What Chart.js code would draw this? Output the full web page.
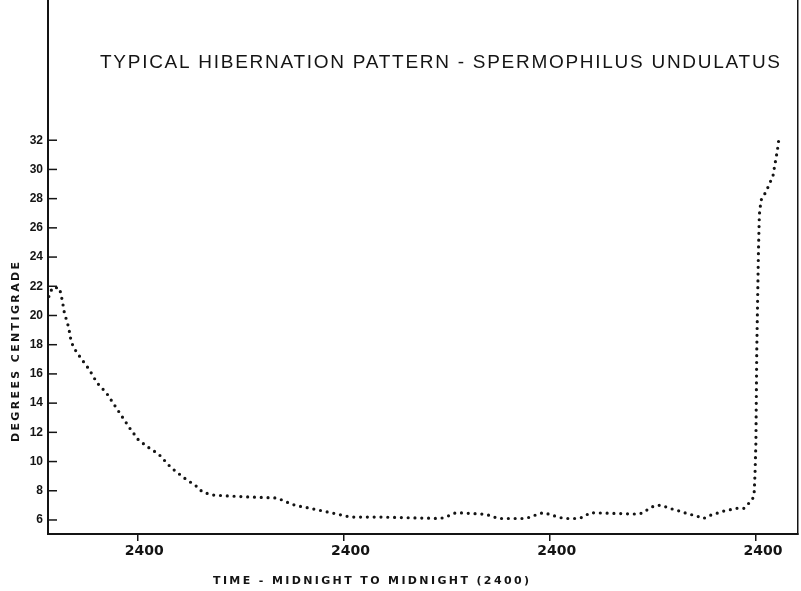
<!DOCTYPE html>
<html>
<head>
<meta charset="utf-8">
<script src="https://cdn.jsdelivr.net/npm/chart.js@4"></script>
<style>
  html, body { margin: 0; padding: 0; background: #fff; }
</style>
</head>
<body>
<canvas id="myChart" width="801" height="591"></canvas>
<script>
// time in hours from the first midnight, body temperature in degrees C
const hours = [-10.3, -9.9, -9.1, -8.9, -8.7, -8.5, -8.0, -7.7, -7.3, -6.6, -5.6, -4.7, -3.6, -2.7, -1.8, -0.9,
  0.1, 1.2, 2.5, 3.9, 5.4, 6.9, 7.6, 8.9, 12.0, 16.3, 17.5, 18.4, 20.1, 21.7, 23.3, 24.8, 28.3, 35.3, 36.3, 37.1,
  40.3, 41.1, 42.0, 45.0, 45.8, 46.6, 47.3, 49.0, 49.7, 51.3, 51.9, 52.7, 58.3, 58.9, 59.6, 60.3, 61.1, 61.9, 62.6,
  64.2, 65.0, 65.9, 66.6, 68.2, 69.8, 70.6, 71.1, 71.6, 71.8, 71.9, 72.0, 72.1, 72.3, 72.4, 72.6, 73.1, 73.5, 74.0,
  74.2, 74.5, 74.7];
const tempC = [21.3, 21.9, 21.9, 21.5, 20.9, 20.2, 19.2, 18.2, 17.7, 17.1, 16.3, 15.4, 14.7, 13.9, 13.1, 12.3,
  11.5, 11.0, 10.5, 9.6, 8.9, 8.3, 7.9, 7.7, 7.6, 7.5, 7.2, 7.0, 6.8, 6.6, 6.4, 6.2, 6.2, 6.1, 6.3, 6.5,
  6.4, 6.3, 6.1, 6.1, 6.2, 6.4, 6.5, 6.2, 6.1, 6.1, 6.2, 6.5, 6.4, 6.5, 6.8, 7.0, 7.0, 6.8, 6.7,
  6.4, 6.3, 6.1, 6.3, 6.6, 6.8, 6.8, 7.1, 7.4, 7.9, 9.2, 11.3, 17.6, 24.5, 26.9, 27.9, 28.4, 28.9, 29.6,
  30.3, 31.3, 32.2];
const yTicks = [6, 8, 10, 12, 14, 16, 18, 20, 22, 24, 26, 28, 30, 32];
const xTicks = [0, 24, 48, 72];
const xTickLabel = '2400';
const chartTitle = 'TYPICAL HIBERNATION PATTERN - SPERMOPHILUS UNDULATUS';
const yTitle = 'DEGREES CENTIGRADE';
const xTitle = 'TIME - MIDNIGHT TO MIDNIGHT (2400)';

const ink = '#141414';

// draws text stretched to a given width with letter spacing
function spacedText(ctx, text, cx, cy, width, font, angle) {
  ctx.save();
  ctx.font = font;
  ctx.letterSpacing = '0px';
  const w = ctx.measureText(text).width;
  const sp = Math.max(0, (width - w) / (text.length - 1));
  ctx.letterSpacing = sp + 'px';
  ctx.translate(cx, cy);
  ctx.rotate(angle || 0);
  ctx.fillStyle = ink;
  ctx.textAlign = 'left';
  ctx.textBaseline = 'middle';
  ctx.fillText(text, -width / 2, 0);
  ctx.restore();
}

// no extra room for end labels, the frame runs to the canvas edge
const noPad = s => { s.paddingTop = 0; s.paddingBottom = 0; s.paddingLeft = 0; s.paddingRight = 0; };

const paperPlugin = {
  id: 'paper',
  afterDraw(chart) {
    const ctx = chart.ctx;
    const area = chart.chartArea;
    const y = chart.scales.y;
    // inward tick marks on the temperature axis
    ctx.save();
    ctx.strokeStyle = ink;
    ctx.lineWidth = 1.5;
    yTicks.forEach(v => {
      const py = y.getPixelForValue(v);
      ctx.beginPath();
      ctx.moveTo(area.left, py);
      ctx.lineTo(area.left + 9, py);
      ctx.stroke();
    });
    ctx.restore();
    spacedText(ctx, chartTitle, 440, 63, 680, '19px "Liberation Sans"', 0);
    spacedText(ctx, yTitle, 16, 352, 180, 'bold 11px "DejaVu Sans"', -Math.PI / 2);
    spacedText(ctx, xTitle, 371, 581, 316, 'bold 11px "DejaVu Sans"', 0);
  }
};

const ctx = document.getElementById('myChart').getContext('2d');

new Chart(ctx, {
  type: 'line',
  data: {
    datasets: [{
      data: hours.map((h, i) => ({ x: h, y: tempC[i] })),
      borderColor: ink,
      borderWidth: 3.2,
      borderDash: [0, 6.8],
      borderCapStyle: 'round',
      pointRadius: 0,
      tension: 0,
      fill: false
    }]
  },
  options: {
    responsive: false,
    animation: false,
    layout: { padding: { top: 0, right: 3, bottom: 0, left: 0 } },
    scales: {
      x: {
        type: 'linear',
        min: -10.4,
        max: 76.9,
        afterBuildTicks: s => { s.ticks = xTicks.map(v => ({ value: v })); },
        afterFit: s => { s.height = 57; noPad(s); },
        grid: { drawOnChartArea: false, tickLength: 7, color: ink, lineWidth: 1.5 },
        border: { color: ink, width: 2 },
        ticks: {
          callback: () => xTickLabel,
          color: ink,
          padding: 2,
          labelOffset: 7,
          maxRotation: 0,
          font: { family: 'DejaVu Sans', size: 14, weight: 'bold' }
        }
      },
      y: {
        type: 'linear',
        min: 5.04,
        max: 41.6,
        afterBuildTicks: s => { s.ticks = yTicks.map(v => ({ value: v })); },
        afterFit: s => { s.width = 48; noPad(s); },
        grid: { drawOnChartArea: false, drawTicks: false },
        border: { color: ink, width: 2 },
        ticks: {
          color: ink,
          padding: 5,
          font: { family: 'Liberation Sans', size: 12, weight: 'bold' }
        }
      },
      y2: {
        type: 'linear',
        position: 'right',
        afterFit: s => { s.width = 0; noPad(s); },
        grid: { drawOnChartArea: false, drawTicks: false },
        border: { color: ink, width: 1.5 },
        ticks: { display: false }
      }
    },
    plugins: {
      legend: { display: false },
      tooltip: { enabled: false }
    }
  },
  plugins: [paperPlugin]
});
</script>
</body>
</html>
